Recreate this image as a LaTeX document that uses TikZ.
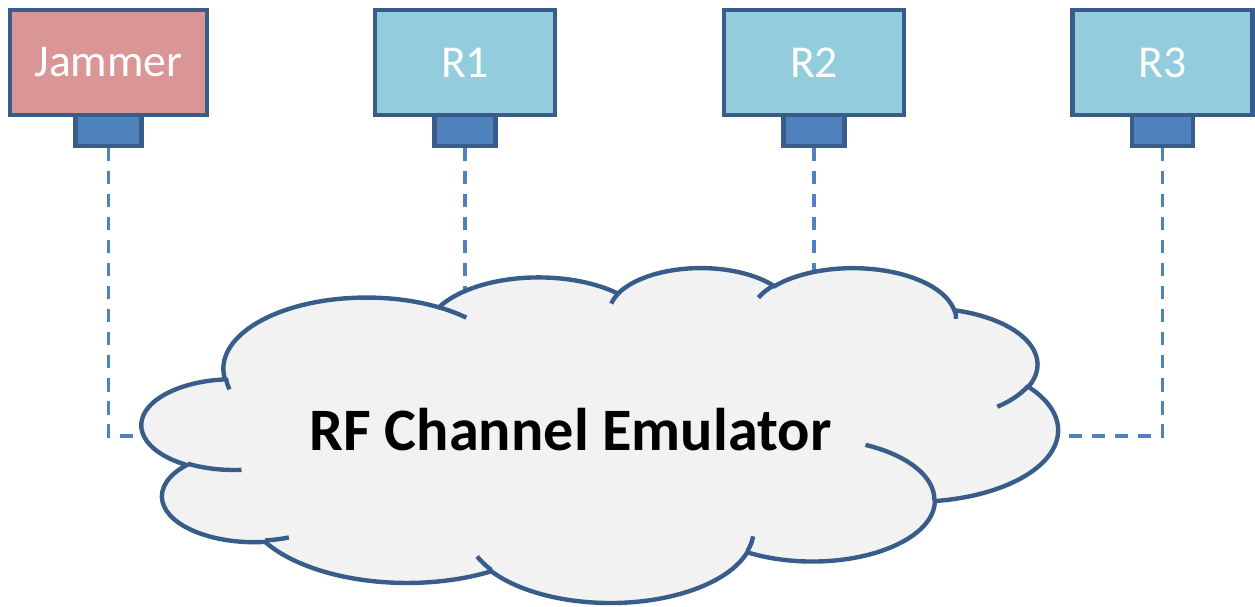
\documentclass[tikz,border=0pt]{standalone}
\usepackage{fontspec}
\setmainfont{Carlito}
\usetikzlibrary{positioning}

\definecolor{outline}{HTML}{385D8A}
\definecolor{portblue}{HTML}{4F81BD}
\definecolor{jamfill}{HTML}{D99694}
\definecolor{rxfill}{HTML}{93CDDD}
\definecolor{cloudfill}{HTML}{F2F2F2}

% angle along the ellipse -> parametric angle
\pgfmathdeclarefunction{cloudang}{3}{%
  \pgfmathparse{(#1)+(atan2((#2)*sin(#1),(#3)*cos(#1))-(#1))-360*round((atan2((#2)*sin(#1),(#3)*cos(#1))-(#1))/360)}%
}
\newcommand{\cloudarc}[4]{arc[start angle={cloudang(#3,#1,#2)}, end angle={cloudang(#3+#4,#1,#2)}, x radius=#1, y radius=#2]}

\begin{document}
\begin{tikzpicture}[x=0.02cm, y=-0.02cm,
    radio/.style={draw=outline, line width=2.5pt, fill=rxfill, text=white,
      minimum width=3.6cm, minimum height=2.1cm, inner sep=0pt,
      font=\fontsize{26}{30}\selectfont},
    port/.style={draw=outline, line width=2.5pt, fill=portblue,
      minimum width=1.22cm, minimum height=0.62cm, inner sep=0pt},
    link/.style={draw=portblue, line width=1.9pt, dash pattern=on 7.5pt off 5.6pt},
    cloudline/.style={draw=outline, line width=2.5pt}]
    \useasboundingbox (0,0) rectangle (1255,607);

    \node[radio, fill=jamfill, minimum width=3.94cm] (jam) at (108.5,62.5) {Jammer};
    \node[radio] (r1) at (465,62.5) {R1};
    \node[radio] (r2) at (814,62.5) {R2};
    \node[radio] (r3) at (1162.5,62.5) {R3};

    \node[port, minimum width=1.32cm, below=-2.5pt of jam] (jamport) {};
    \node[port, below=-2.5pt of r1] (r1port) {};
    \node[port, below=-2.5pt of r2] (r2port) {};
    \node[port, below=-2.5pt of r3] (r3port) {};

    \coordinate (hub) at (571,436);
    \draw[link] (jamport.south) |- (hub);
    \draw[link] (r1port.south) -- (r1port.south |- hub);
    \draw[link] (r2port.south) -- (r2port.south |- hub);
    \draw[link] (r3port.south) |- (hub);

    % the cloud
    \begin{scope}[shift={(142,267)}, x=0.042407cm, y=-0.015509cm]
      \filldraw[cloudline, fill=cloudfill] (39.00,143.70)
        \cloudarc{67.53}{91.90}{-190.4875}{123.7805}
        \cloudarc{53.33}{72.67}{-144.1024}{89.9452}
        \cloudarc{43.65}{59.45}{-145.8079}{99.7230}
        \cloudarc{48.57}{65.95}{-130.9861}{117.2417}
        \cloudarc{53.33}{72.73}{-78.7089}{109.0269}
        \cloudarc{67.75}{92.20}{-46.2673}{130.2690}
        \cloudarc{57.85}{78.67}{0.6250}{114.0333}
        \cloudarc{67.52}{92.15}{22.4516}{115.1726}
        \cloudarc{77.20}{105.43}{66.2426}{75.7110}
        \cloudarc{43.60}{59.18}{-274.9421}{146.7356}
        \cloudarc{43.45}{59.45}{-246.8285}{152.5189}
        -- cycle;
      \draw[cloudline] (46.93,261.77) \cloudarc{43.45}{59.45}{86.742}{26.4295}
        (69.28,348.99) \cloudarc{43.60}{59.18}{73.6105}{11.4475}
        (164.78,390.90) \cloudarc{67.52}{92.15}{137.6242}{14.0811}
        (288.27,347.51) \cloudarc{67.52}{92.15}{6.4533}{15.9984}
        (341.29,229.54) \cloudarc{57.85}{78.67}{-70.2924}{70.9174}
        (417.98,153.54) \cloudarc{53.33}{72.73}{30.3180}{27.7515}
        (383.24,54.26) \cloudarc{48.57}{65.95}{-13.7443}{14.8589}
        (290.78,39.52) \cloudarc{48.57}{65.95}{-149.1815}{18.1954}
        (221.41,47.20) \cloudarc{43.65}{59.45}{-163.4943}{17.6864}
        (140.00,51.92) \cloudarc{67.53}{91.90}{-66.7070}{12.3194}
        (41.27,157.89) \cloudarc{67.53}{91.90}{162.0352}{12.4050};
    \end{scope}

    \node[font=\bfseries\fontsize{34.3}{38}\selectfont, anchor=base] (emu) at (570.5,451) {RF Channel Emulator};
\end{tikzpicture}
\end{document}
